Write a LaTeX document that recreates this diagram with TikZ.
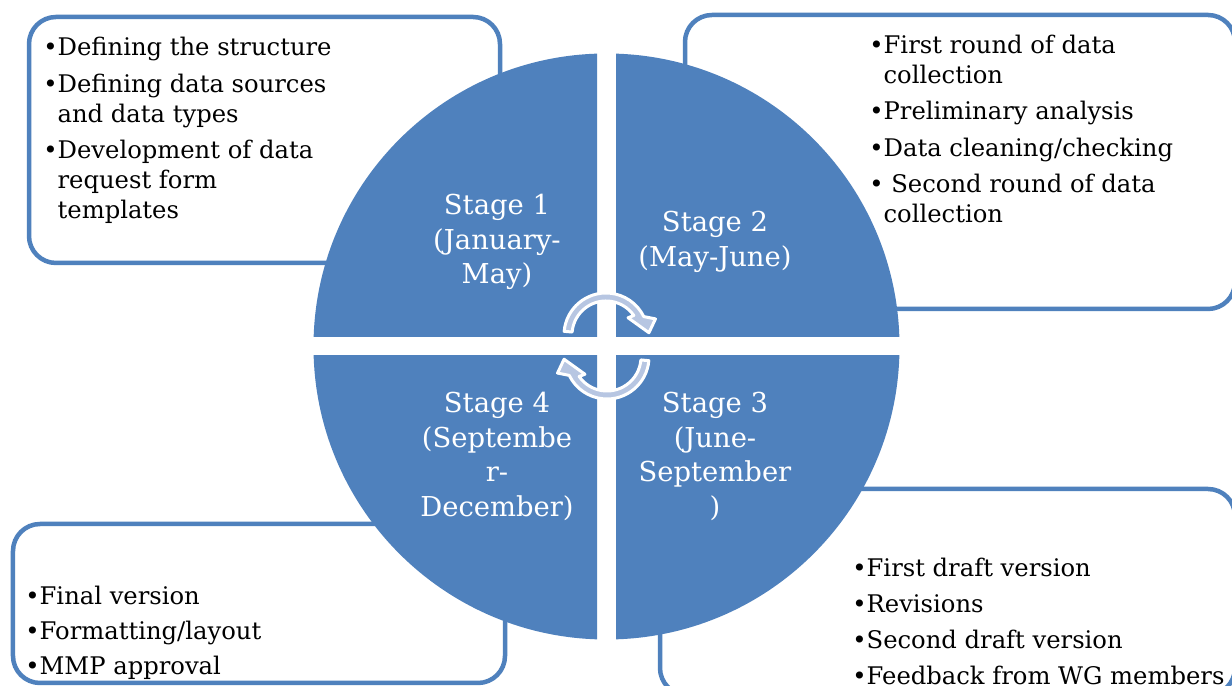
\documentclass[tikz,border=0pt]{standalone}
\usepackage{fontspec}
\setmainfont{DejaVu Serif}
\usetikzlibrary{calc}
\definecolor{stageblue}{HTML}{4F81BD}
\definecolor{turnfill}{HTML}{B7C6E2}
\tikzset{
	note/.style={draw=stageblue, line width=0.09cm, rounded corners=0.54cm},
	items/.style={anchor=north west, align=left, inner sep=0pt, font=\fontsize{13.8}{17.07}\selectfont},
	stage/.style={align=center, text=white, inner sep=0pt, font=\fontsize{15.6}{19.6}\selectfont},
	turn/.style={fill=turnfill, draw=white, line width=0.06cm, line join=round},
}

\begin{document}
\begin{tikzpicture}
			%%%%% START %%%%%
			\useasboundingbox (0, 0) rectangle (24.64, 13.72);
			\clip (0, 0) rectangle (24.64, 13.72);
			\fill[white] (0, 0) rectangle (24.64, 13.72);
			
			\draw[note] (0.58, 13.38) rectangle (10.0, 8.46);
			\draw[note] (13.7, 13.42) rectangle (24.70, 7.54);
			\draw[note] (0.26, 3.24) rectangle (10.1, 0.06);
			\draw[note] (13.2, 3.94) rectangle (24.70, -0.18);
			
			\foreach \sx/\sy in {-1/1, 1/1, 1/-1, -1/-1} {
				\begin{scope}
					\clip ({12.13+0.19*\sx}, {6.79+0.19*\sy}) rectangle ++({6.5*\sx}, {6.5*\sy});
					\fill[stageblue] (12.13, 6.79) circle (5.86);
				\end{scope}
			}
			
			\node[stage] (s1) at (9.94, 8.88) {Stage 1\\(January-\\May)};
			\node[stage] (s2) at (14.3, 8.88) {Stage 2\\(May-June)};
			\node[stage] (s3) at (14.3, 4.59) {Stage 3\\(June-\\September\\)};
			\node[stage] (s4) at (9.94, 4.59) {Stage 4\\(Septembe\\r-\\December)};
			
			\node[items] (plan) at (0.86, 12.98) {•Defining the structure\\[3.7pt]
				•Defining data sources\\ \phantom{•}and data types\\[3.7pt]
				•Development of data\\ \phantom{•}request form\\ \phantom{•}templates};
			\node[items] (collect) at (17.38, 13.02) {•First round of data\\ \phantom{•}collection\\[3.5pt]
				•Preliminary analysis\\[3.5pt]
				•Data cleaning/checking\\[3.5pt]
				• Second round of data\\ \phantom{•}collection};
			\node[items] (draft) at (17.04, 2.56) {•First draft version\\[3.3pt]
				•Revisions\\[3.3pt]
				•Second draft version\\[3.3pt]
				•Feedback from WG members};
			\node[items] (final) at (0.50, 2.00) {•Final version\\[2.8pt]
				•Formatting/layout\\[2.8pt]
				•MMP approval};
			
			\draw[turn] (12.12, 7.02) ++(175:0.84) arc (175:26:0.84) -- ($(12.12, 7.02)+(18:1.04)$)
				-- ($(12.12, 7.02)+(3:0.86)$) -- ($(12.12, 7.02)+(38:0.56)$) -- ($(12.12, 7.02)+(35:0.68)$)
				arc (35:175:0.68) -- cycle;
			\draw[turn] (12.14, 6.58) ++(355:0.84) arc (355:206:0.84) -- ($(12.14, 6.58)+(198:1.04)$)
				-- ($(12.14, 6.58)+(183:0.86)$) -- ($(12.14, 6.58)+(218:0.56)$) -- ($(12.14, 6.58)+(215:0.68)$)
				arc (215:355:0.68) -- cycle;
			%%%%% END %%%%%
\end{tikzpicture}
\end{document}
